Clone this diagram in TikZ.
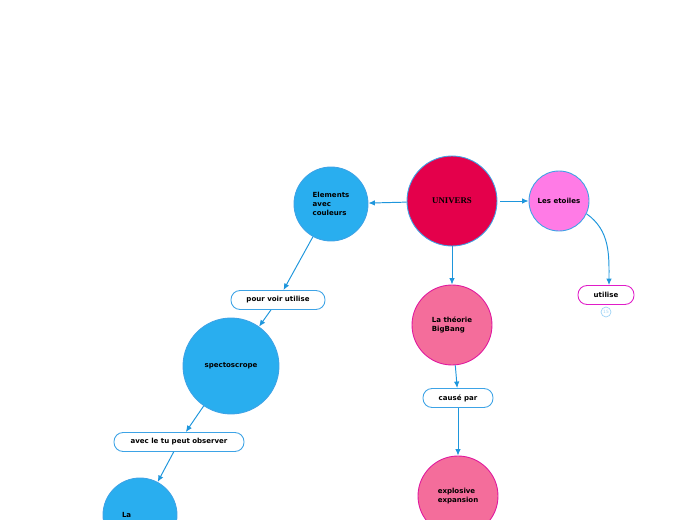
\documentclass[tikz,border=0pt]{standalone}
\usepackage{fontspec}
\setmainfont{DejaVu Sans}
\newfontfamily\titlefont{Liberation Serif}
\usetikzlibrary{arrows.meta}

\definecolor{linkblue}{HTML}{1E96DC}
\definecolor{rimblue}{HTML}{3DA3E6}
\definecolor{skyfill}{HTML}{29AEEF}
\definecolor{crimsonfill}{HTML}{E4004B}
\definecolor{pinkfill}{HTML}{FF7BE6}
\definecolor{rosefill}{HTML}{F46D9B}
\definecolor{rosedraw}{HTML}{E0189E}
\definecolor{magentadraw}{HTML}{E01CC8}
\definecolor{badgeblue}{HTML}{9ED3F5}

\begin{document}
\begin{tikzpicture}[
    x=0.02cm, y=-0.02cm,
    font=\fontsize{4}{5}\selectfont\bfseries,
    bubble/.style={
        circle,
        draw=rimblue,
        line width=0.5pt,
        inner sep=0pt,
        align=left
    },
    tag/.style={
        draw=rimblue,
        fill=white,
        rounded corners=0.18cm,
        minimum height=0.38cm,
        inner sep=1pt,
        line width=0.5pt
    },
    link/.style={
        -{Latex[length=1.3mm,width=1.1mm]},
        draw=linkblue,
        line width=0.55pt
    }
]
\clip (0,0) rectangle (697,520);

% Centre
\node[bubble, fill=crimsonfill, minimum size=1.8cm, font=\titlefont\fontsize{5}{6}\selectfont\bfseries] (univers) at (452,201) {UNIVERS};

% Right branch
\node[bubble, fill=pinkfill, minimum size=1.2cm] (etoiles) at (559,201) {Les etoiles};
\node[tag, draw=magentadraw, minimum width=1.12cm] (utilise) at (606,295) {utilise};
\node[circle, draw=badgeblue, text=badgeblue, line width=0.4pt, minimum size=0.2cm, inner sep=0pt, font=\fontsize{2.5}{3}\selectfont] (badge) at (606,312) {15};

% Middle branch
\node[bubble, fill=rosefill, draw=rosedraw, minimum size=1.6cm] (bigbang) at (452,325) {La théorie\\BigBang};
\node[tag, minimum width=1.4cm] (cause) at (458,398) {causé par};
\node[bubble, fill=rosefill, draw=rosedraw, minimum size=1.6cm] (explosion) at (458,496) {explosive\\expansion};

% Left branch
\node[bubble, fill=skyfill, minimum size=1.48cm] (elements) at (331,204) {Elements\\avec\\couleurs};
\node[tag, minimum width=1.88cm] (pourvoir) at (278,300) {pour voir utilise};
\node[bubble, fill=skyfill, minimum size=1.92cm] (spectro) at (231,366) {spectoscrope};
\node[tag, minimum width=2.6cm] (observer) at (179,442) {avec le tu peut observer};
\node[bubble, fill=skyfill, minimum size=1.48cm, text width=0.72cm] (lumiere) at (140,515) {La\\[2pt]};

% Arrows
\draw[link] (univers) -- (elements);
\draw[link, shorten <=1.5pt] (univers) -- (etoiles);
\draw[link] (etoiles.-25) to[out=-35, in=90] ([xshift=0.06cm]utilise.north);
\draw[link] (univers) -- (bigbang);
\draw[link] (bigbang) -- (cause);
\draw[link] (cause) -- (explosion);
\draw[link] (elements) -- (pourvoir);
\draw[link] (pourvoir) -- (spectro);
\draw[link] (spectro) -- (observer);
\draw[link] (observer) -- (lumiere);

\end{tikzpicture}
\end{document}
